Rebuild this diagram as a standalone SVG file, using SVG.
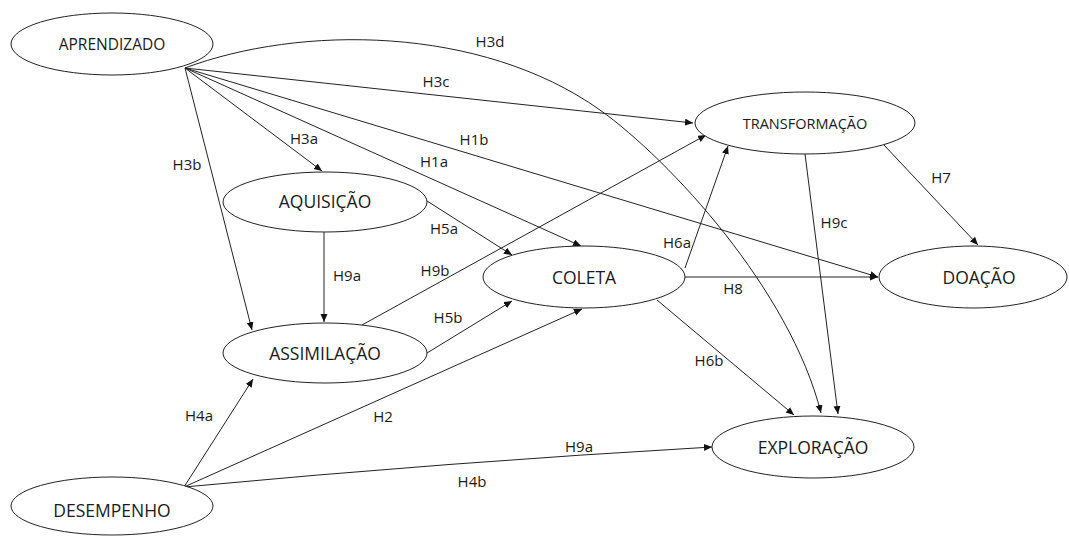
<svg xmlns="http://www.w3.org/2000/svg" width="1069" height="536" viewBox="0 0 1069 536">
  <style>
    .node ellipse { fill: #ffffff; stroke: #222222; stroke-width: 1; }
    .node text { font-family: "Open Sans", "Liberation Sans", sans-serif; font-size: 17.5px; fill: #1a1a1a; text-anchor: middle; }
    .edges path { fill: none; stroke: #222222; stroke-width: 1; marker-end: url(#arrow); }
    .lbl { font-family: "Open Sans", "Liberation Sans", sans-serif; font-size: 15px; fill: #1a1a1a; text-anchor: middle; }
  </style>
  <defs>
    <marker id="arrow" markerUnits="userSpaceOnUse" markerWidth="9" markerHeight="8" refX="8" refY="3.5" orient="auto">
      <path d="M0,0 L8,3.5 L0,7 z" fill="#111111"/>
    </marker>
  </defs>
  <rect width="1069" height="536" fill="#ffffff"/>

  <!-- connectors -->
  <g class="edges" id="connectors">
    <path d="M185,68 C300,25 480,25 600,110 C670,160 790,290 821,413"/>
    <path d="M185,68 L693,123"/>
    <path d="M185,68 L878,277"/>
    <path d="M185,68 L581,246"/>
    <path d="M185,68 L322,171"/>
    <path d="M185,68 L252,330"/>
    <path d="M324,232 L324,322"/>
    <path d="M427,201 L512,255"/>
    <path d="M362,325 L706,135"/>
    <path d="M427,353 L512,301"/>
    <path d="M184,487 L582,309"/>
    <path d="M184,487 L253,379"/>
    <path d="M184,487 Q450,462 712,447"/>
    <path d="M685,268 L728,146"/>
    <path d="M685,277 L878,277"/>
    <path d="M657,300 L794,415"/>
    <path d="M884,145 L978,245"/>
    <path d="M805,154 L838,414"/>
  </g>

  <!-- connector labels -->
  <g id="labels">
    <text class="lbl" x="490" y="47">H3d</text>
    <text class="lbl" x="436" y="87">H3c</text>
    <text class="lbl" x="474" y="145">H1b</text>
    <text class="lbl" x="434" y="167">H1a</text>
    <text class="lbl" x="304" y="144">H3a</text>
    <text class="lbl" x="187" y="170">H3b</text>
    <text class="lbl" x="347" y="281">H9a</text>
    <text class="lbl" x="444" y="234">H5a</text>
    <text class="lbl" x="435" y="276">H9b</text>
    <text class="lbl" x="448" y="323">H5b</text>
    <text class="lbl" x="383" y="422">H2</text>
    <text class="lbl" x="199" y="421">H4a</text>
    <text class="lbl" x="579" y="452">H9a</text>
    <text class="lbl" x="472" y="487">H4b</text>
    <text class="lbl" x="677" y="248">H6a</text>
    <text class="lbl" x="733" y="294">H8</text>
    <text class="lbl" x="709" y="366">H6b</text>
    <text class="lbl" x="941" y="183">H7</text>
    <text class="lbl" x="834" y="228">H9c</text>
  </g>

  <!-- nodes -->
  <g class="node" id="aprendizado">
    <ellipse cx="112" cy="44" rx="101" ry="31"/>
    <text x="112" y="49.5" style="font-size:15.5px">APRENDIZADO</text>
  </g>
  <g class="node" id="aquisicao">
    <ellipse cx="325" cy="202" rx="102" ry="30"/>
    <text x="325" y="207.5">AQUISIÇÃO</text>
  </g>
  <g class="node" id="assimilacao">
    <ellipse cx="325" cy="353" rx="102" ry="30"/>
    <text x="325" y="360">ASSIMILAÇÃO</text>
  </g>
  <g class="node" id="coleta">
    <ellipse cx="584" cy="277" rx="101" ry="31"/>
    <text x="584" y="284">COLETA</text>
  </g>
  <g class="node" id="transformacao">
    <ellipse cx="805" cy="123" rx="110" ry="31"/>
    <text x="805" y="128.5" style="font-size:14.5px">TRANSFORMAÇÃO</text>
  </g>
  <g class="node" id="doacao">
    <ellipse cx="973" cy="277" rx="94" ry="31"/>
    <text x="979" y="284">DOAÇÃO</text>
  </g>
  <g class="node" id="exploracao">
    <ellipse cx="813" cy="447" rx="101" ry="31"/>
    <text x="813" y="454">EXPLORAÇÃO</text>
  </g>
  <g class="node" id="desempenho">
    <ellipse cx="112" cy="506" rx="101" ry="29"/>
    <text x="112" y="517">DESEMPENHO</text>
  </g>
</svg>
